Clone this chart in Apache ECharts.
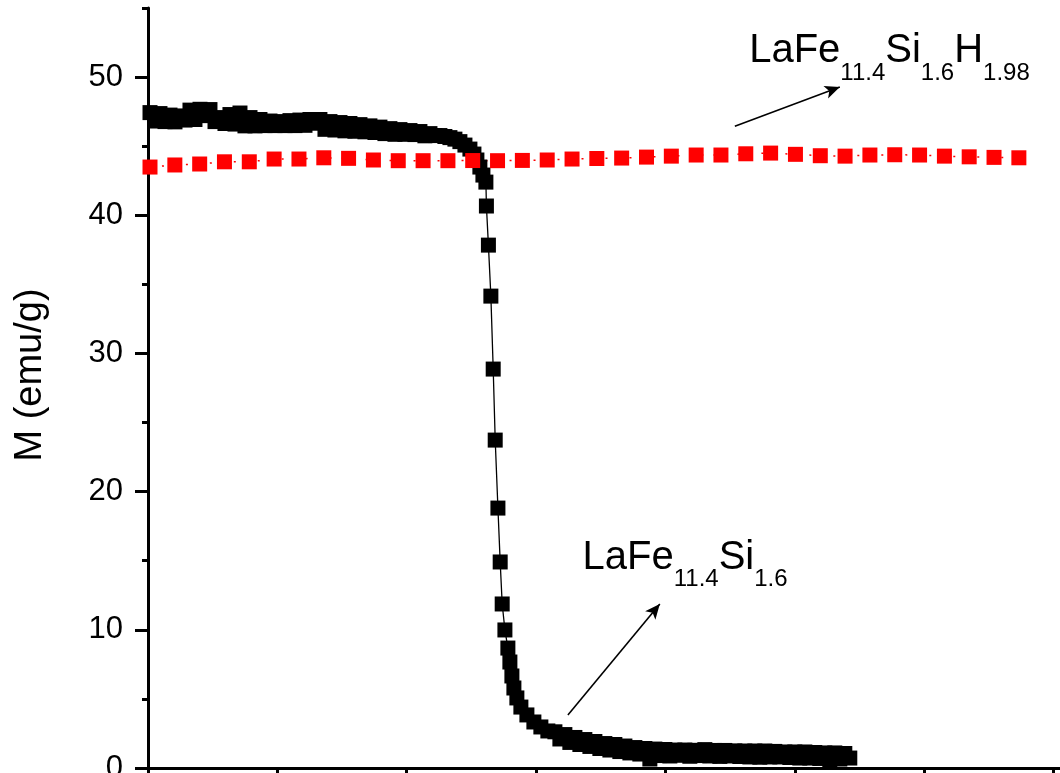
<!DOCTYPE html>
<html><head><meta charset="utf-8">
<script src="https://cdn.jsdelivr.net/npm/echarts@6/dist/echarts.min.js"></script>
<style>html,body{margin:0;padding:0;background:#fff}#c{width:1060px;height:773px}</style>
</head><body><div id="c"></div>
<script>
// ---- data (temperature in K, magnetization in emu/g) ----
const blackT = [
140.31,141.08,141.85,142.63,143.40,144.17,144.95,145.72,146.49,147.26,
148.04,148.81,149.58,150.36,151.13,151.90,152.67,153.45,154.22,154.99,
155.77,156.54,157.31,158.08,158.86,159.63,160.40,161.17,161.95,162.72,
163.49,164.27,165.04,165.81,166.58,167.36,168.13,168.90,169.68,170.45,
171.22,171.99,172.77,173.54,174.31,175.09,175.86,176.63,177.40,178.18,
178.95,179.72,180.50,181.27,182.04,182.81,183.59,184.36,185.13,185.90,
186.68,187.45,188.22,189.00,189.77,
190.39,190.85,191.31,191.78,192.24,
192.32,192.63,193.01,193.37,193.68,194.10,194.45,194.76,195.18,195.64,
195.95,196.26,196.57,197.03,197.65,198.58,199.66,200.74,201.82,
202.91,203.68,204.45,205.22,206.00,206.77,207.54,208.32,209.09,209.86,
210.63,211.41,212.18,212.95,213.73,214.50,215.27,216.04,216.82,217.59,
218.36,219.13,219.91,220.68,221.45,222.23,223.00,223.77,224.54,225.32,
226.09,226.86,227.64,228.41,229.18,229.95,230.73,231.50,232.27,233.05,
233.82,234.59,235.36,236.14,236.91,237.68,238.46,239.23,240.00,240.77,
241.55,242.32,243.09,243.86,244.64,245.41,246.18,246.96,247.73,248.50];
const blackM = [
47.43,46.82,47.36,46.78,47.25,46.76,47.19,46.89,47.61,46.93,
47.67,47.21,47.65,46.78,47.07,46.64,47.29,46.60,47.40,46.47,
47.07,46.47,46.93,46.49,46.82,46.49,46.78,46.49,46.85,46.49,
46.89,46.51,46.93,46.66,46.93,46.22,46.78,46.17,46.71,46.11,
46.64,46.08,46.56,46.04,46.47,45.99,46.38,45.91,46.27,45.86,
46.20,45.86,46.13,45.84,46.06,45.75,45.91,45.77,45.77,45.70,
45.62,45.51,45.33,45.08,44.79,
44.43,44.00,43.49,42.91,42.40,
40.67,37.84,34.15,28.87,23.73,18.81,14.91,11.87,9.99,8.68,
7.67,6.66,5.79,5.07,4.41,3.84,3.33,2.97,2.68,
2.62,2.10,2.42,1.85,2.21,1.70,2.06,1.56,1.92,1.41,
1.77,1.30,1.70,1.19,1.59,1.09,1.48,1.01,1.41,0.65,
1.37,0.90,1.34,0.87,1.30,0.92,1.30,0.85,1.28,0.90,
1.33,0.87,1.27,0.84,1.27,0.87,1.24,0.83,1.23,0.80,
1.23,0.78,1.23,0.80,1.20,0.80,1.16,0.76,1.16,0.72,
1.16,0.72,1.12,0.69,1.09,0.58,1.09,0.65,1.05,0.72];
const redT = [140.31,144.15,147.99,151.82,155.66,159.50,163.34,167.18,171.01,174.85,
178.69,182.53,186.37,190.20,194.04,197.88,201.72,205.56,209.39,213.23,
217.07,220.91,224.75,228.58,232.42,236.26,240.10,243.94,247.77,251.61,
255.45,259.29,263.13,266.96,270.80,274.64];
const redM = [43.49,43.64,43.71,43.87,43.87,44.07,44.07,44.16,44.12,44.00,
43.95,43.95,43.95,43.96,43.95,43.97,44.00,44.07,44.11,44.14,
44.21,44.28,44.36,44.36,44.45,44.50,44.41,44.31,44.28,44.36,
44.38,44.36,44.28,44.23,44.19,44.16];
const yMajorTicks = [0,10,20,30,40,50];
const yMinorTicks = [5,15,25,35,45,55];
const xTicks = [140,160,180,200,220,240,260,280];
const yTitle = 'M (emu/g)';
// annotations (data coordinates)
const lowerArrow = [[204.92,3.84],[219.13,11.87]];
const upperArrow = [[230.73,46.45],[246.96,49.28]];
const lowerLabelAt = [207.19,14.33];
const upperLabelAt = [232.94,50.99];
const lowerLabelParts = [['LaFe',0],['11.4',1],['Si',0],['1.6',1]];
const upperLabelParts = [['LaFe',0],['11.4',1],['Si',0],['1.6',1],['H',0],['1.98',1]];

const FONT = '"Liberation Sans", Arial, Helvetica, sans-serif';
const chart = echarts.init(document.getElementById('c'), null, {renderer:'canvas'});
const zip = (a,b) => a.map((v,i)=>[v,b[i]]);

chart.setOption({
  animation:false,
  backgroundColor:'#fff',
  textStyle:{fontFamily:FONT},
  grid:{left:148, top:8, right:0, bottom:5, containLabel:false, outerBoundsMode:'none'},
  xAxis:{type:'value', min:140, max:281, interval:20,
    axisLine:{show:true, onZero:false, lineStyle:{color:'#000', width:3}},
    axisTick:{show:true, inside:false, length:10, customValues:xTicks, lineStyle:{color:'#000', width:3}},
    axisLabel:{show:false}, splitLine:{show:false}},
  yAxis:[
    {type:'value', min:0, max:55, interval:10, position:'left',
     name:yTitle, nameLocation:'middle', nameGap:98,
     nameTextStyle:{fontSize:38, color:'#000', fontFamily:FONT, padding:[0,0,0,26]},
     axisLine:{show:true, onZero:false, lineStyle:{color:'#000', width:3}},
     axisTick:{show:true, inside:false, length:13, customValues:yMajorTicks, lineStyle:{color:'#000', width:3}},
     axisLabel:{show:true, customValues:yMajorTicks, margin:25, fontSize:31, color:'#000', fontFamily:FONT},
     splitLine:{show:false}},
    {type:'value', min:0, max:55, interval:5, position:'left',
     axisLine:{show:false},
     axisTick:{show:true, inside:false, length:6, customValues:yMinorTicks, lineStyle:{color:'#000', width:3}},
     axisLabel:{show:false}, splitLine:{show:false}}
  ],
  series:[
    {type:'line', name:'LaFe11.4Si1.6', data:zip(blackT,blackM), yAxisIndex:0,
     symbol:'rect', symbolSize:15, showAllSymbol:true,
     itemStyle:{color:'#000'}, lineStyle:{color:'#000', width:1.3},
     emphasis:{disabled:true},
     markLine:{silent:true, symbol:['none','arrow'], symbolSize:[10,15],
       lineStyle:{color:'#000', width:1.6, type:'solid'}, label:{show:false}, emphasis:{disabled:true},
       data:[
         [{coord:lowerArrow[0]},{coord:lowerArrow[1]}],
         [{coord:upperArrow[0]},{coord:upperArrow[1]}]
       ]}},
    {type:'line', name:'LaFe11.4Si1.6H1.98', data:zip(redT,redM), yAxisIndex:0,
     symbol:'rect', symbolSize:15, showAllSymbol:true,
     itemStyle:{color:'#ff0000'}, lineStyle:{color:'#ff0000', width:1.5, type:[2,10]},
     emphasis:{disabled:true}}
  ]
});

function buildLabel(at, parts){
  const ctx = document.createElement('canvas').getContext('2d');
  const p = chart.convertToPixel({gridIndex:0}, at);
  let x = p[0];
  const els = [];
  parts.forEach(([txt, sub]) => {
    const fs = sub ? 24 : 40;
    ctx.font = fs + 'px ' + FONT;
    const base = p[1] + (sub ? 17 : 0);
    els.push({type:'text', x:x, y:base - 0.31*fs, silent:true, z:100,
      style:{text:txt, fontSize:fs, fontFamily:FONT, fill:'#000', align:'left', verticalAlign:'middle'}});
    x += ctx.measureText(txt).width;
  });
  return els;
}
chart.setOption({graphic:[].concat(buildLabel(lowerLabelAt, lowerLabelParts), buildLabel(upperLabelAt, upperLabelParts))});
</script></body></html>
